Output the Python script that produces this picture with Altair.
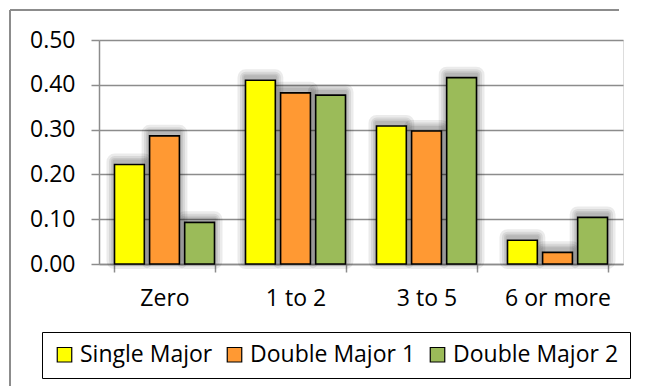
import altair as alt
import pandas as pd

categories = ["Zero", "1 to 2", "3 to 5", "6 or more"]
series = ["Single Major", "Double Major 1", "Double Major 2"]
single_major = [0.222, 0.410, 0.308, 0.053]
double_major_1 = [0.286, 0.382, 0.297, 0.026]
double_major_2 = [0.093, 0.377, 0.416, 0.104]
colors = ["#FFFF00", "#FF9933", "#9BBB59"]
y_ticks = [0.0, 0.1, 0.2, 0.3, 0.4, 0.5]

rows = []
for name, vals in zip(series, [single_major, double_major_1, double_major_2]):
    for cat, v in zip(categories, vals):
        rows.append({"category": cat, "series": name, "value": v})
df = pd.DataFrame(rows)

FONT = "Open Sans"
FSIZE = 23
GRID = "#8C8C8C"

x_enc = alt.X(
    "category:N",
    sort=categories,
    title=None,
    scale=alt.Scale(paddingInner=0.2366, paddingOuter=0.1183),
    axis=alt.Axis(
        tickBand="extent",
        labelAngle=0,
        labelFont=FONT,
        labelFontSize=FSIZE,
        labelColor="#000000",
        labelPadding=15,
        domainColor=GRID,
        domainWidth=1.5,
        tickColor=GRID,
        tickWidth=1.5,
        tickSize=8,
        grid=False,
    ),
)
xoff_enc = alt.XOffset("series:N", sort=series, scale=alt.Scale(paddingInner=0.15))
y_enc = alt.Y(
    "value:Q",
    title=None,
    scale=alt.Scale(domain=[0, 0.5], nice=False),
    axis=alt.Axis(
        values=y_ticks,
        format=".2f",
        labelFont=FONT,
        labelFontSize=FSIZE,
        labelColor="#000000",
        labelPadding=16,
        domainColor=GRID,
        domainWidth=1.5,
        tickColor=GRID,
        tickWidth=1.5,
        tickSize=8,
        gridColor=GRID,
        gridWidth=1.5,
    ),
)
color_enc = alt.Color(
    "series:N",
    sort=series,
    scale=alt.Scale(domain=series, range=colors),
    legend=alt.Legend(
        title=None,
        orient="none",
        direction="horizontal",
        legendX=-57,
        legendY=292,
        labelFont=FONT,
        labelFontSize=FSIZE,
        labelColor="#000000",
        labelLimit=400,
        labelOffset=4,
        symbolType="square",
        symbolSize=210,
        symbolStrokeColor="#000000",
        symbolStrokeWidth=1.2,
        symbolOpacity=1,
        columnPadding=10,
        strokeColor="#000000",
        padding=11,
        fillColor="#FFFFFF",
    ),
)

base = alt.Chart(df)

# soft drop shadow behind each bar, built from a few translucent strokes
shadows = [
    base.mark_bar(
        fill=None,
        stroke="#000000",
        strokeOpacity=0.08,
        strokeWidth=w,
        strokeJoin="round",
        xOffset=-2,
        yOffset=-3,
    ).encode(x=x_enc, xOffset=xoff_enc, y=y_enc)
    for w in (16, 11, 7, 4)
]

bars = base.mark_bar(stroke="#000000", strokeWidth=1.6, opacity=1).encode(
    x=x_enc, xOffset=xoff_enc, y=y_enc, color=color_enc
)

# outer chart-area border: top and left edges
frame_top = alt.Chart(alt.Data(values=[{}])).mark_rule(
    color=GRID, strokeWidth=2
).encode(x=alt.value(-89), x2=alt.value(520), y=alt.value(-30))
frame_left = alt.Chart(alt.Data(values=[{}])).mark_rule(
    color=GRID, strokeWidth=2
).encode(x=alt.value(-89), y=alt.value(-30), y2=alt.value(346))

chart = alt.layer(frame_top, frame_left, *shadows, bars).properties(
    width=524,
    height=224,
    autosize=alt.AutoSizeParams(type="none"),
    padding={"left": 99, "top": 40, "right": 23, "bottom": 122},
).configure_view(stroke=None).configure(background="#FFFFFF")

chart.save("out.html", embed_options={"renderer": "svg", "actions": False})
